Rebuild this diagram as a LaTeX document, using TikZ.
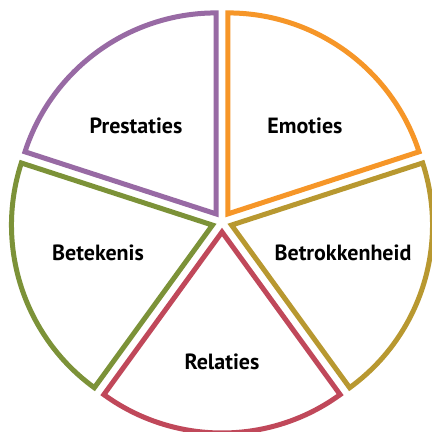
\documentclass[tikz,border=0pt]{standalone}
\usepackage{fontspec}
\setmainfont{PT Sans}
\usetikzlibrary{calc,positioning}
\definecolor{pvpurple}{RGB}{152,106,164}
\definecolor{pvorange}{RGB}{246,150,40}
\definecolor{pvgold}{RGB}{184,152,48}
\definecolor{pvred}{RGB}{192,72,90}
\definecolor{pvgreen}{RGB}{124,146,56}
\tikzstyle{sector} = [line width=5pt, fill=white, line join=miter]
\tikzstyle{pielabel} = [font=\bfseries\fontsize{22}{26}\selectfont, text=black]

\begin{document}
\begin{tikzpicture}[x=1pt, y=1pt]
    \useasboundingbox (0,0) rectangle (432,432);
    \coordinate (C) at (222,210);

    % Sectors, each pushed out along its middle
    \draw[sector, draw=pvorange] ($(C)+(54:10)$) coordinate (emo) -- ++(18:201) arc[start angle=18, end angle=90, radius=201] -- cycle;
    \draw[sector, draw=pvpurple] ($(C)+(126:10)$) coordinate (pre) -- ++(90:201) arc[start angle=90, end angle=162, radius=201] -- cycle;
    \draw[sector, draw=pvgreen] ($(C)+(198:10)$) coordinate (bet) -- ++(162:201) arc[start angle=162, end angle=234, radius=201] -- cycle;
    \draw[sector, draw=pvred] ($(C)+(270:10)$) coordinate (rel) -- ++(234:201) arc[start angle=234, end angle=306, radius=201] -- cycle;
    \draw[sector, draw=pvgold] ($(C)+(342:10)$) coordinate (btr) -- ++(306:201) arc[start angle=306, end angle=378, radius=201] -- cycle;

    % Labels
    \node[pielabel] (prestaties) at (136,306) {Prestaties};
    \node[pielabel] (emoties) at (305,306) {Emoties};
    \node[pielabel] (betekenis) at (98,179) {Betekenis};
    \node[pielabel] (betrokkenheid) at (343,179) {Betrokkenheid};
    \node[pielabel] (relaties) at (222,70) {Relaties};
\end{tikzpicture}
\end{document}
